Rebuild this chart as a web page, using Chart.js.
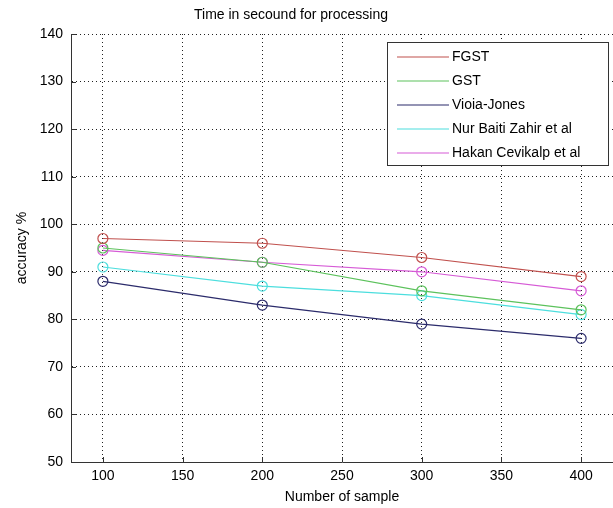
<!DOCTYPE html>
<html>
<head>
<meta charset="utf-8">
<script src="https://cdn.jsdelivr.net/npm/chart.js@4/dist/chart.umd.min.js"></script>
<style>
  body { margin: 0; background: #fff; overflow: hidden; }
  #wrap { width: 613px; height: 508px; }
</style>
</head>
<body>
<div id="wrap"><canvas id="accChart" width="613" height="508"></canvas></div>
<script>
// Data
const samples = [100, 200, 300, 400];
const fgst = [97, 96, 93, 89];
const gst = [95, 92, 86, 82];
const violaJones = [88, 83, 79, 76];
const nurBaiti = [91, 87, 85, 81];
const hakan = [94.5, 92, 90, 86];
const xTicks = [100, 150, 200, 250, 300, 350, 400];
const yTicks = [50, 60, 70, 80, 90, 100, 110, 120, 130, 140];

const FONT = '"Liberation Sans", Arial, sans-serif';

function series(label, values, color) {
  return {
    label: label,
    data: samples.map((s, i) => ({ x: s, y: values[i] })),
    borderColor: color,
    backgroundColor: color,
    borderWidth: 1.2,
    pointRadius: 5,
    pointHoverRadius: 5,
    pointBorderWidth: 1.2,
    pointBackgroundColor: 'rgba(0,0,0,0)',
    pointBorderColor: color,
    tension: 0
  };
}

// title, inward tick marks and the boxed legend
const extras = {
  id: 'extras',
  afterDraw(chart) {
    const ctx = chart.ctx;
    const area = chart.chartArea;
    const xs = chart.scales.x, ys = chart.scales.y;
    ctx.save();

    // inward tick marks
    ctx.strokeStyle = '#333';
    ctx.lineWidth = 1;
    ctx.beginPath();
    ys.ticks.forEach((t, i) => {
      const y = Math.round(ys.getPixelForTick(i)) + 0.5;
      ctx.moveTo(area.left, y);
      ctx.lineTo(area.left + 5, y);
    });
    xs.ticks.forEach((t, i) => {
      const x = Math.round(xs.getPixelForTick(i)) + 0.5;
      ctx.moveTo(x, area.bottom);
      ctx.lineTo(x, area.bottom - 5);
    });
    ctx.stroke();

    // title
    ctx.fillStyle = '#000';
    ctx.font = '14px ' + FONT;
    ctx.textAlign = 'center';
    ctx.textBaseline = 'middle';
    ctx.fillText('Time in secound for processing', 291, 15);

    // legend
    const bx = 387, by = 42, bw = 221, bh = 123;
    ctx.fillStyle = '#fff';
    ctx.fillRect(bx, by, bw, bh);
    ctx.strokeStyle = '#333';
    ctx.strokeRect(bx + 0.5, by + 0.5, bw, bh);
    ctx.font = '14px ' + FONT;
    ctx.textAlign = 'left';
    chart.data.datasets.forEach((ds, i) => {
      const y = by + 15 + i * 24;
      ctx.strokeStyle = ds.borderColor;
      ctx.lineWidth = 1.2;
      ctx.beginPath();
      ctx.moveTo(bx + 10, y);
      ctx.lineTo(bx + 62, y);
      ctx.stroke();
      ctx.fillStyle = '#000';
      ctx.fillText(ds.label, bx + 65, y);
    });
    ctx.restore();
  }
};

new Chart(document.getElementById('accChart'), {
  type: 'line',
  data: {
    datasets: [
      series('FGST', fgst, '#c0504d'),
      series('GST', gst, '#5cc25c'),
      series('Vioia-Jones', violaJones, '#2b2b6b'),
      series('Nur Baiti Zahir et al', nurBaiti, '#4cdede'),
      series('Hakan Cevikalp et al', hakan, '#d65ad6')
    ]
  },
  options: {
    responsive: false,
    animation: false,
    layout: { autoPadding: false, padding: { top: 34, right: -2, left: 0, bottom: 0 } },
    plugins: {
      legend: { display: false },
      title: { display: false },
      tooltip: { enabled: false }
    },
    scales: {
      x: {
        type: 'linear',
        min: 80,
        max: 420,
        afterBuildTicks: axis => { axis.ticks = xTicks.map(v => ({ value: v })); },
        afterFit: axis => { axis.height = 46; },
        grid: { color: '#222', lineWidth: 1, drawTicks: false },
        border: { display: true, color: '#333', width: 1, dash: [1, 3] },
        ticks: { color: '#000', padding: 6, font: { family: FONT, size: 14 } },
        title: { display: true, text: 'Number of sample', color: '#000', padding: { top: 0, bottom: 2 }, font: { family: FONT, size: 14 } }
      },
      y: {
        min: 50,
        max: 140,
        afterBuildTicks: axis => { axis.ticks = yTicks.map(v => ({ value: v })); },
        afterFit: axis => { axis.width = 71; },
        grid: { color: '#222', lineWidth: 1, drawTicks: false },
        border: { display: true, color: '#333', width: 1, dash: [1, 3] },
        ticks: { color: '#000', padding: 8, font: { family: FONT, size: 14 } },
        title: { display: true, text: 'accuracy %', color: '#000', padding: { top: 14, bottom: 0 }, font: { family: FONT, size: 14 } }
      }
    }
  },
  plugins: [extras]
});
</script>
</body>
</html>
